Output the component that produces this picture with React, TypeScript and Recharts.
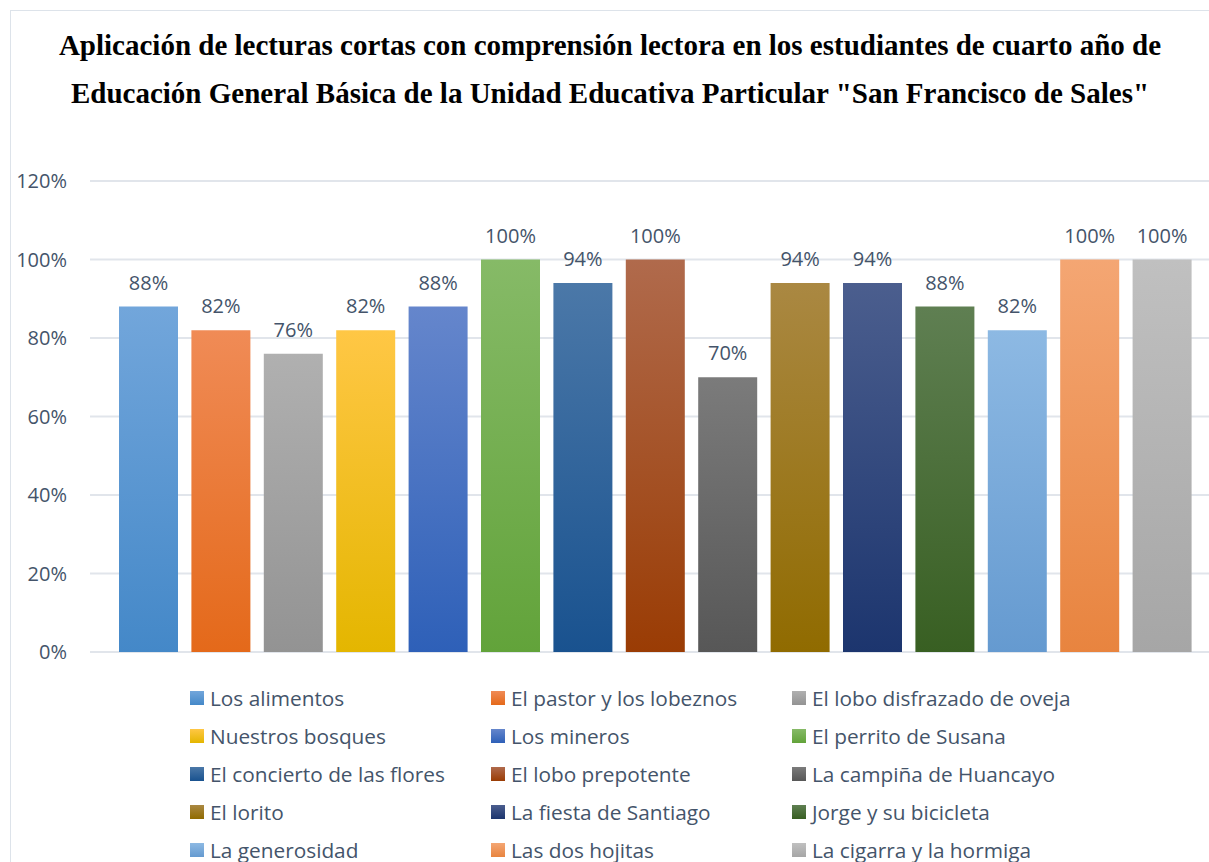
import { Bar, BarChart, CartesianGrid, Cell, LabelList, XAxis, YAxis } from 'recharts';

const lecturas = [
  'Los alimentos',
  'El pastor y los lobeznos',
  'El lobo disfrazado de oveja',
  'Nuestros bosques',
  'Los mineros',
  'El perrito de Susana',
  'El concierto de las flores',
  'El lobo prepotente',
  'La campiña de Huancayo',
  'El lorito',
  'La fiesta de Santiago',
  'Jorge y su bicicleta',
  'La generosidad',
  'Las dos hojitas',
  'La cigarra y la hormiga',
];

const porcentajes = [0.88, 0.82, 0.76, 0.82, 0.88, 1.0, 0.94, 1.0, 0.7, 0.94, 0.94, 0.88, 0.82, 1.0, 1.0];

const yTicks = [0, 0.2, 0.4, 0.6, 0.8, 1.0, 1.2];

// top / bottom colour of each bar gradient
const topColors = [
  '#72a6db', '#f08b56', '#b0b0b0', '#ffc745', '#6586cc',
  '#86ba67', '#4b78a8', '#b06a4c', '#7b7b7b', '#aa8842',
  '#4b5e8e', '#5f7f52', '#8db9e3', '#f4a673', '#c0c0c0',
];
const bottomColors = [
  '#4488c8', '#e4691a', '#939393', '#e4b600', '#2e60b8',
  '#62a33a', '#19528f', '#9a3c04', '#575757', '#906b00',
  '#1c356e', '#385f22', '#659ad0', '#e8843f', '#a6a6a6',
];

const data = lecturas.map((name, i) => ({ name, valor: porcentajes[i] }));

const TEXT = '#44546a';
const FONT = '"Open Sans", sans-serif';
const pct = (v: number) => `${Math.round(v * 100)}%`;

export default function App() {
  return (
    <div style={{ position: 'absolute', left: 0, top: 0, width: 1209, height: 862, background: '#fff', overflow: 'hidden' }}>
      <div
        style={{
          position: 'absolute',
          left: 10,
          top: 10,
          width: 1260,
          height: 900,
          border: '1.5px solid #dde3ea',
          boxSizing: 'border-box',
        }}
      />
      <div
        style={{
          position: 'absolute',
          left: 0,
          top: 21,
          width: 1220,
          textAlign: 'center',
          fontFamily: '"Liberation Serif", "Times New Roman", serif',
          fontWeight: 'bold',
          fontSize: 29,
          lineHeight: '48px',
          color: '#000',
          whiteSpace: 'nowrap',
        }}
      >
        Aplicación de lecturas cortas con comprensión lectora en los estudiantes de cuarto año de
        <br />
        Educación General Básica de la Unidad Educativa Particular "San Francisco de Sales"
      </div>

      <div style={{ position: 'absolute', left: 0, top: 0 }}>
        <BarChart
          width={1209}
          height={862}
          data={data}
          margin={{ top: 181, right: 0, bottom: 210, left: 0 }}
          barSize={59}
        >
          <defs>
            {topColors.map((c, i) => (
              <linearGradient key={i} id={`grad${i}`} x1="0" y1="0" x2="0" y2="1">
                <stop offset="0%" stopColor={c} />
                <stop offset="100%" stopColor={bottomColors[i]} />
              </linearGradient>
            ))}
          </defs>
          <CartesianGrid vertical={false} stroke="#e1e5eb" strokeWidth={2} />
          <XAxis dataKey="name" hide padding={{ left: 22, right: 11 }} />
          <YAxis
            width={90}
            domain={[0, 1.2]}
            ticks={yTicks}
            tickFormatter={pct}
            axisLine={false}
            tickLine={false}
            tickSize={0}
            tickMargin={23}
            tick={{ fontSize: 20, fill: TEXT, fontFamily: FONT }}
          />
          <Bar dataKey="valor" isAnimationActive={false}>
            {data.map((_, i) => (
              <Cell key={i} fill={`url(#grad${i})`} />
            ))}
            <LabelList
              dataKey="valor"
              position="top"
              offset={17}
              formatter={(v: any) => pct(Number(v))}
              style={{ fontSize: 20, fill: TEXT, fontFamily: FONT }}
            />
          </Bar>
        </BarChart>
      </div>

      <div
        style={{
          position: 'absolute',
          left: 190,
          top: 679,
          display: 'grid',
          gridTemplateColumns: '301px 301px 301px',
          gridAutoRows: '38px',
          fontFamily: FONT,
          fontSize: 20.8,
          color: TEXT,
        }}
      >
        {lecturas.map((name, i) => (
          <div key={name} style={{ display: 'flex', alignItems: 'center', whiteSpace: 'nowrap' }}>
            <span
              style={{
                display: 'inline-block',
                width: 14,
                height: 14,
                marginRight: 6,
                background: `linear-gradient(${topColors[i]}, ${bottomColors[i]})`,
              }}
            />
            {name}
          </div>
        ))}
      </div>
    </div>
  );
}
